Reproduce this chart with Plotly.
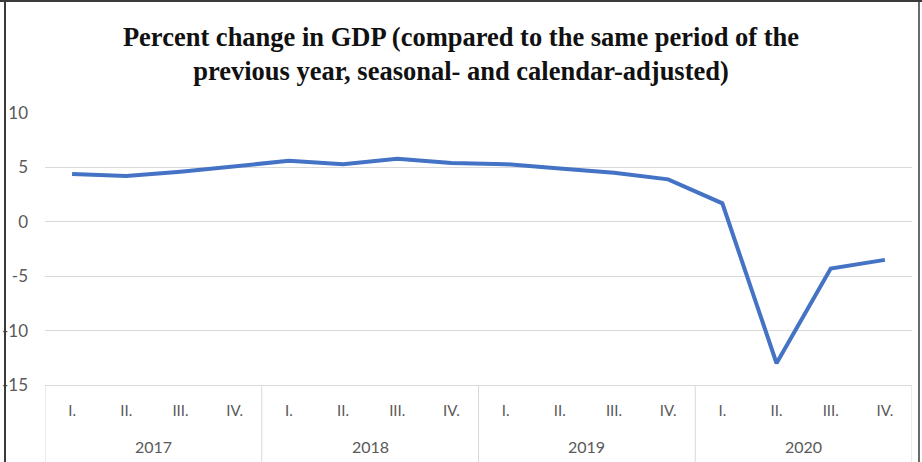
import plotly.graph_objects as go

years = ["2017"] * 4 + ["2018"] * 4 + ["2019"] * 4 + ["2020"] * 4
quarters = ["I.", "II.", "III.", "IV."] * 4
gdp_change = [4.4, 4.2, 4.6, 5.1, 5.6, 5.3, 5.8, 5.4,
              5.3, 4.9, 4.5, 3.9, 1.7, -13.0, -4.3, -3.5]
y_ticks = [10, 5, 0, -5, -10, -15]

W, H = 922, 462
L, R, T, B = 45, 10, 113, 77
pw, ph = W - L - R, H - T - B

def px_to_paper_x(px):
    return (px - L) / pw

def px_to_paper_y(py):
    return (H - B - py) / ph

cats = [f"{y} {q}" for y, q in zip(years, quarters)]

fig = go.Figure()
fig.add_trace(go.Scatter(
    x=cats, y=gdp_change, mode="lines",
    line=dict(color="#4472C4", width=4),
    showlegend=False,
))

fig.update_layout(
    width=W, height=H,
    margin=dict(l=L, r=R, t=T, b=B, autoexpand=False),
    paper_bgcolor="white", plot_bgcolor="white",
    title=dict(
        text="Percent change in GDP (compared to the same period of the<br>previous year, seasonal- and calendar-adjusted)",
        x=0.5, xanchor="center", y=1 - 46 / H, yanchor="middle",
        font=dict(family="Liberation Serif", size=26.5, color="#111111", weight="bold"),
    ),
    font=dict(family="Lato", color="#595959", size=15),
)
fig.update_xaxes(
    type="category", range=[-0.5, len(cats) - 0.5], automargin=False,
    tickvals=cats, ticktext=quarters,
    showgrid=False, showline=True, linecolor="#d9d9d9", linewidth=1,
    ticks="", ticklabelstandoff=12,
    tickfont=dict(family="Lato", size=15, color="#595959"),
)
fig.update_yaxes(
    range=[-15, 10], tickvals=y_ticks, ticktext=[str(v) for v in y_ticks],
    showgrid=True, gridcolor="#d9d9d9", gridwidth=1, automargin=False,
    zeroline=False, showline=False, ticks="", ticklabelstandoff=16,
    tickfont=dict(family="Lato", size=17, color="#595959"),
)

# year group labels and dividers (derived from the years list)
groups = []
for i, y in enumerate(years):
    if not groups or groups[-1][0] != y:
        groups.append([y, i, i])
    else:
        groups[-1][2] = i
div_line = dict(color="#d9d9d9", width=1)
bottom = px_to_paper_y(H + 2)
for y, i0, i1 in groups:
    fig.add_annotation(x=(i0 + i1) / 2, xref="x", y=px_to_paper_y(446), yref="paper",
                       text=y, showarrow=False, yanchor="middle",
                       font=dict(family="Lato", size=16, color="#595959"))
    fig.add_shape(type="line", xref="x", yref="paper", x0=i0 - 0.5, x1=i0 - 0.5,
                  y0=0, y1=bottom, line=div_line)
fig.add_shape(type="line", xref="x", yref="paper", x0=len(cats) - 0.5, x1=len(cats) - 0.5,
              y0=0, y1=bottom, line=div_line)

# outer frame of the picture
frame = dict(color="#3a3a3a", width=2)
fig.add_shape(type="line", xref="paper", yref="paper",
              x0=px_to_paper_x(0), x1=px_to_paper_x(W), y0=px_to_paper_y(1), y1=px_to_paper_y(1), line=frame)
fig.add_shape(type="line", xref="paper", yref="paper",
              x0=px_to_paper_x(5), x1=px_to_paper_x(5), y0=px_to_paper_y(0), y1=px_to_paper_y(H), line=frame)
fig.add_shape(type="line", xref="paper", yref="paper",
              x0=px_to_paper_x(919), x1=px_to_paper_x(919), y0=px_to_paper_y(0), y1=px_to_paper_y(H), line=dict(color="#3a3a3a", width=1.5))

fig.write_html("out.html")
